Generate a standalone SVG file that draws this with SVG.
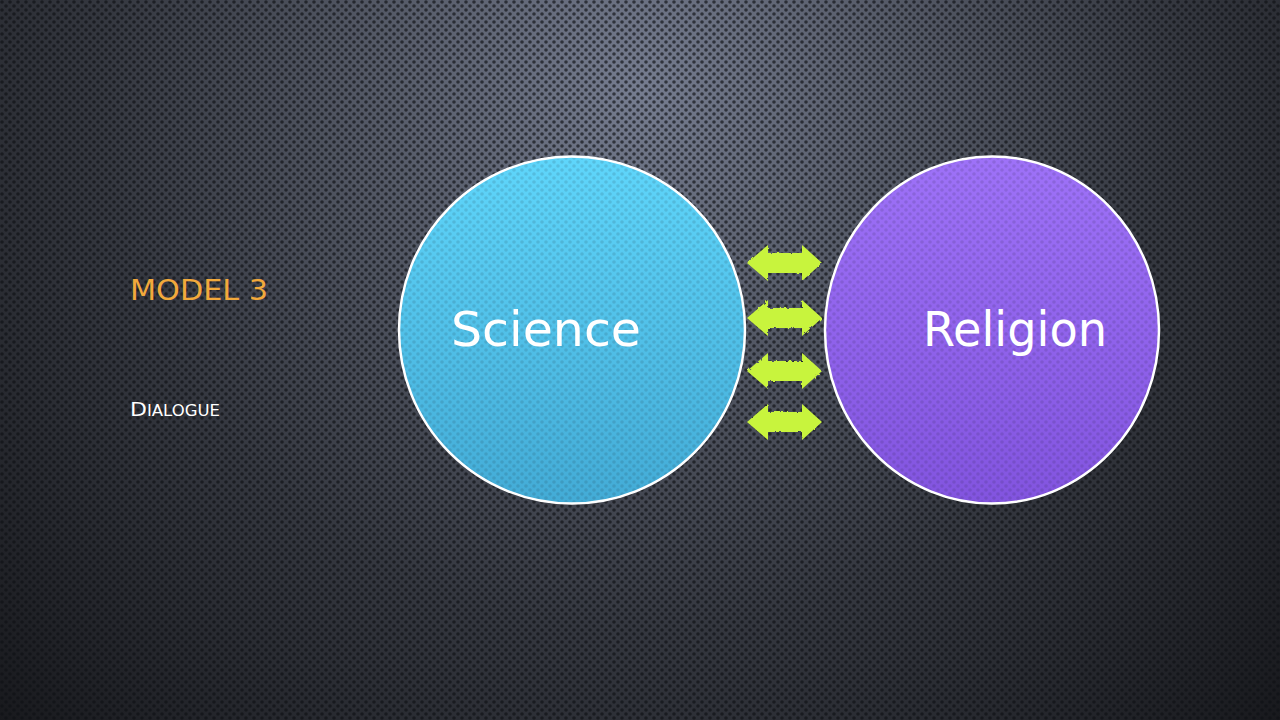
<svg xmlns="http://www.w3.org/2000/svg" width="1280" height="720" viewBox="0 0 1280 720">
<defs>
  <radialGradient id="bg" cx="640" cy="90" r="900" gradientUnits="userSpaceOnUse">
    <stop offset="0" stop-color="#767d90"/>
    <stop offset="0.3" stop-color="#545966"/>
    <stop offset="0.6" stop-color="#34373f"/>
    <stop offset="1" stop-color="#18191d"/>
  </radialGradient>
  <pattern id="dots" width="8" height="8" patternUnits="userSpaceOnUse">
    <circle cx="2" cy="2" r="1.8" fill="#0e1014"/>
    <circle cx="6" cy="6" r="1.8" fill="#0e1014"/>
  </pattern>
  <linearGradient id="sci" x1="0" y1="0" x2="0" y2="1">
    <stop offset="0" stop-color="#5fd6fb"/>
    <stop offset="1" stop-color="#43abd6"/>
  </linearGradient>
  <linearGradient id="rel" x1="0" y1="0" x2="0" y2="1">
    <stop offset="0" stop-color="#9e72f8"/>
    <stop offset="1" stop-color="#8254df"/>
  </linearGradient>
  <filter id="rough" x="-10%" y="-20%" width="120%" height="140%">
    <feTurbulence type="fractalNoise" baseFrequency="0.3" numOctaves="2" seed="3"/>
    <feDisplacementMap in="SourceGraphic" scale="3"/>
  </filter>
  <style>
    .circ { stroke: #ffffff; stroke-width: 2.5; }
    .lbl { font-family: "DejaVu Sans", "Liberation Sans", sans-serif; fill: #ffffff; }
    .arrow { fill: #c8f43c; }
  </style>
</defs>

<rect width="1280" height="720" fill="url(#bg)"/>
<rect width="1280" height="720" fill="url(#dots)" opacity="0.65"/>

<g id="title">
  <text x="130" y="300" font-family="DejaVu Sans, Liberation Sans, sans-serif" font-size="28" fill="#f2a93b" textLength="138" lengthAdjust="spacingAndGlyphs">MODEL 3</text>
</g>
<g id="subtitle">
  <text x="130" y="416" font-family="DejaVu Sans, Liberation Sans, sans-serif" fill="#ffffff" textLength="90" lengthAdjust="spacingAndGlyphs"><tspan font-size="20">D</tspan><tspan font-size="15">IALOGUE</tspan></text>
</g>

<g id="science">
  <ellipse class="circ" cx="572" cy="330" rx="173" ry="173.5" fill="url(#sci)"/>
  <ellipse cx="572" cy="330" rx="172" ry="172" fill="url(#dots)" opacity="0.12"/>
  <text class="lbl" x="451" y="346" font-size="48" textLength="190" lengthAdjust="spacingAndGlyphs">Science</text>
</g>

<g id="religion">
  <ellipse class="circ" cx="992" cy="330" rx="167" ry="173.5" fill="url(#rel)"/>
  <ellipse cx="992" cy="330" rx="166" ry="172" fill="url(#dots)" opacity="0.12"/>
  <text class="lbl" x="923" y="346" font-size="48" textLength="184" lengthAdjust="spacingAndGlyphs">Religion</text>
</g>

<g id="connectors" filter="url(#rough)">
  <path class="arrow" d="M747,263 L768,245 L768,253 L802,253 L802,245 L822,263 L802,281 L802,273 L768,273 L768,281 Z"/>
  <path class="arrow" d="M747,318 L768,300 L768,308 L802,308 L802,300 L822,318 L802,336 L802,328 L768,328 L768,336 Z"/>
  <path class="arrow" d="M747,371 L768,353 L768,361 L802,361 L802,353 L822,371 L802,389 L802,381 L768,381 L768,389 Z"/>
  <path class="arrow" d="M747,422 L768,404 L768,412 L802,412 L802,404 L822,422 L802,440 L802,432 L768,432 L768,440 Z"/>
</g>
</svg>
